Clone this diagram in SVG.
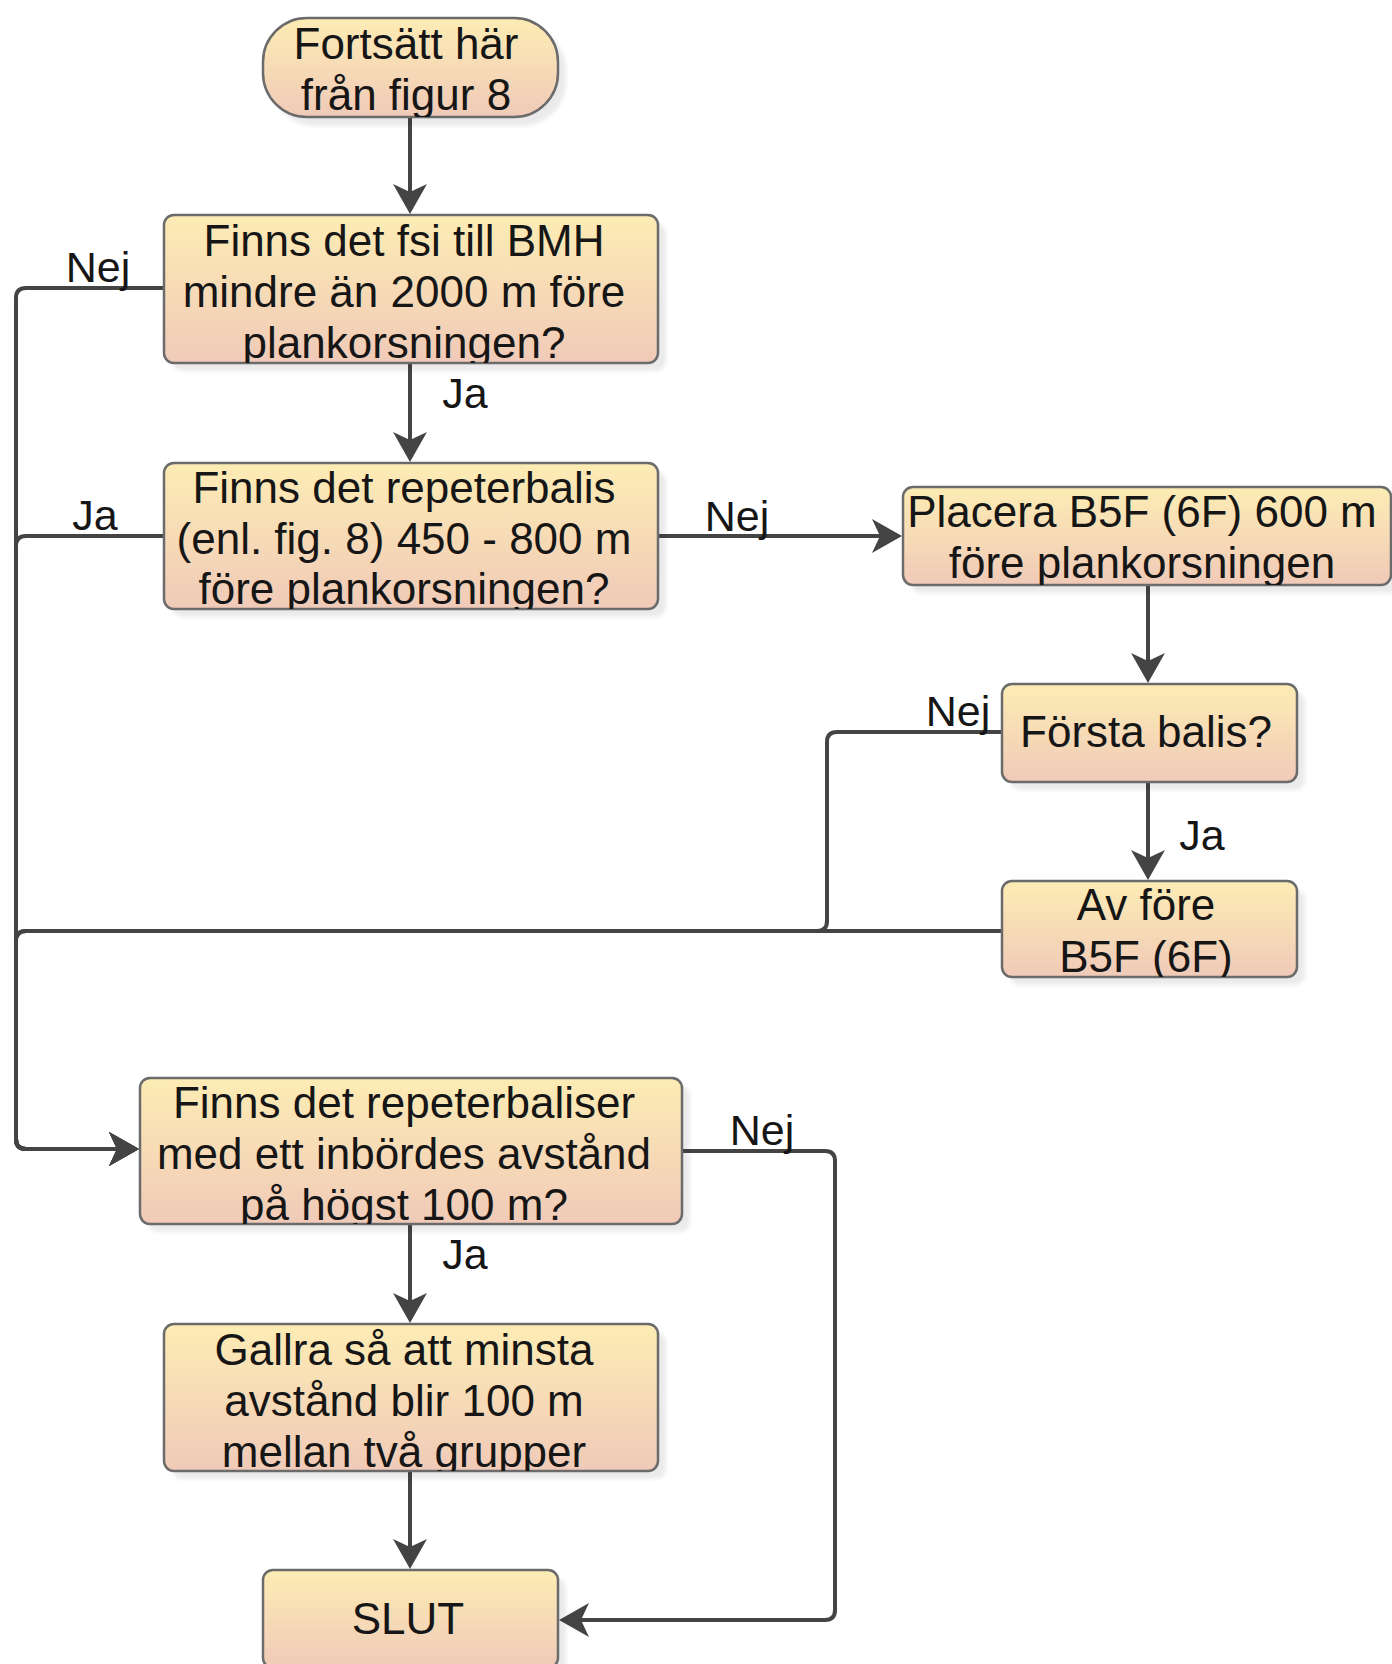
<svg xmlns="http://www.w3.org/2000/svg" width="1392" height="1664" viewBox="0 0 1392 1664">
  <style>
    .box { fill: url(#fillGrad); stroke: #6b6b6b; stroke-width: 2.5; }
    .shadow { fill: #000; opacity: 0.08; filter: url(#soft); }
    .txt { font-family: "Liberation Sans", Arial, sans-serif; font-size: 44px; fill: #161616; text-anchor: middle; }
    .lbl { font-family: "Liberation Sans", Arial, sans-serif; font-size: 43px; fill: #161616; text-anchor: middle; }
    .edge { fill: none; stroke: #444; stroke-width: 4; stroke-linejoin: round; }
    .arrow { marker-end: url(#arr); }
  </style>
  <defs>
    <linearGradient id="fillGrad" x1="0" y1="0" x2="0" y2="1">
      <stop offset="0" stop-color="#fdecb4"/>
      <stop offset="1" stop-color="#f0cab8"/>
    </linearGradient>
    <filter id="soft" x="-10%" y="-10%" width="120%" height="120%">
      <feGaussianBlur stdDeviation="2"/>
    </filter>
    <!-- classic arrowhead; the path ends at the notch, the tip sits 22px further on -->
    <marker id="arr" markerUnits="userSpaceOnUse" markerWidth="40" markerHeight="40" viewBox="-32 -20 40 40" refX="-22" refY="0" orient="auto">
      <path d="M0,0 L-30,-17 L-22,0 L-30,17 Z" fill="#444"/>
    </marker>
    <clipPath id="c-start"><rect x="200" y="10" width="420" height="107"/></clipPath>
    <clipPath id="c-q1"><rect x="100" y="205" width="620" height="158"/></clipPath>
    <clipPath id="c-q2"><rect x="100" y="453" width="620" height="156"/></clipPath>
    <clipPath id="c-place"><rect x="880" y="477" width="512" height="108"/></clipPath>
    <clipPath id="c-first"><rect x="990" y="674" width="320" height="108"/></clipPath>
    <clipPath id="c-off"><rect x="990" y="871" width="320" height="106"/></clipPath>
    <clipPath id="c-q3"><rect x="100" y="1068" width="620" height="156"/></clipPath>
    <clipPath id="c-thin"><rect x="100" y="1314" width="620" height="157"/></clipPath>
    <clipPath id="c-end"><rect x="200" y="1560" width="420" height="110"/></clipPath>
  </defs>

  <rect width="1392" height="1664" fill="#ffffff"/>

  <!-- connectors -->
  <g id="connectors">
    <path class="edge arrow" d="M410,117 V192"/>
    <path class="edge arrow" d="M410,363 V440"/>
    <path class="edge arrow" d="M164,288 H26 Q16,288 16,298 V1139 Q16,1149 26,1149 H117"/>
    <path class="edge arrow" d="M164,536 H26 Q16,536 16,546 V1139 Q16,1149 26,1149 H117"/>
    <path class="edge arrow" d="M658,536 H880"/>
    <path class="edge arrow" d="M1148,585 V661"/>
    <path class="edge arrow" d="M1002,732 H837 Q827,732 827,742 V921 Q827,931 817,931 H26 Q16,931 16,941 V1139 Q16,1149 26,1149 H117"/>
    <path class="edge arrow" d="M1148,782 V858"/>
    <path class="edge arrow" d="M1002,931 H26 Q16,931 16,941 V1139 Q16,1149 26,1149 H117"/>
    <path class="edge arrow" d="M410,1224 V1301"/>
    <path class="edge arrow" d="M682,1151 H825 Q835,1151 835,1161 V1610 Q835,1620 825,1620 H581"/>
    <path class="edge arrow" d="M410,1471 V1547"/>

    <text class="lbl" x="98" y="282">Nej</text>
    <text class="lbl" x="95" y="530">Ja</text>
    <text class="lbl" x="465" y="408">Ja</text>
    <text class="lbl" x="737" y="531">Nej</text>
    <text class="lbl" x="958" y="726">Nej</text>
    <text class="lbl" x="1202" y="850">Ja</text>
    <text class="lbl" x="762" y="1145">Nej</text>
    <text class="lbl" x="465" y="1269">Ja</text>
  </g>

  <!-- nodes -->
  <g id="start">
    <rect class="shadow" x="271" y="26" width="295" height="100" rx="44"/>
    <rect class="box" x="263" y="18" width="295" height="99" rx="44"/>
    <g clip-path="url(#c-start)">
      <text class="txt" x="406" y="59">Fortsätt här</text>
      <text class="txt" x="406" y="110">från figur 8</text>
    </g>
  </g>

  <g id="q-fsi">
    <rect class="shadow" x="172" y="223" width="494" height="148" rx="10"/>
    <rect class="box" x="164" y="215" width="494" height="148" rx="10"/>
    <g clip-path="url(#c-q1)">
      <text class="txt" x="404" y="256">Finns det fsi till BMH</text>
      <text class="txt" x="404" y="307">mindre än 2000 m före</text>
      <text class="txt" x="404" y="358">plankorsningen?</text>
    </g>
  </g>

  <g id="q-repeater">
    <rect class="shadow" x="172" y="471" width="494" height="146" rx="10"/>
    <rect class="box" x="164" y="463" width="494" height="146" rx="10"/>
    <g clip-path="url(#c-q2)">
      <text class="txt" x="404" y="503">Finns det repeterbalis</text>
      <text class="txt" x="404" y="554">(enl. fig. 8) 450 - 800 m</text>
      <text class="txt" x="404" y="604">före plankorsningen?</text>
    </g>
  </g>

  <g id="place-b5f">
    <rect class="shadow" x="911" y="495" width="488" height="98" rx="10"/>
    <rect class="box" x="903" y="487" width="488" height="98" rx="10"/>
    <g clip-path="url(#c-place)">
      <text class="txt" x="1142" y="527">Placera B5F (6F) 600 m</text>
      <text class="txt" x="1142" y="578">före plankorsningen</text>
    </g>
  </g>

  <g id="q-first">
    <rect class="shadow" x="1010" y="692" width="295" height="98" rx="10"/>
    <rect class="box" x="1002" y="684" width="295" height="98" rx="10"/>
    <g clip-path="url(#c-first)">
      <text class="txt" x="1146" y="747">Första balis?</text>
    </g>
  </g>

  <g id="off-b5f">
    <rect class="shadow" x="1010" y="889" width="295" height="96" rx="10"/>
    <rect class="box" x="1002" y="881" width="295" height="96" rx="10"/>
    <g clip-path="url(#c-off)">
      <text class="txt" x="1146" y="920">Av före</text>
      <text class="txt" x="1146" y="972">B5F (6F)</text>
    </g>
  </g>

  <g id="q-spacing">
    <rect class="shadow" x="148" y="1086" width="542" height="146" rx="10"/>
    <rect class="box" x="140" y="1078" width="542" height="146" rx="10"/>
    <g clip-path="url(#c-q3)">
      <text class="txt" x="404" y="1118">Finns det repeterbaliser</text>
      <text class="txt" x="404" y="1169">med ett inbördes avstånd</text>
      <text class="txt" x="404" y="1220">på högst 100 m?</text>
    </g>
  </g>

  <g id="thin-out">
    <rect class="shadow" x="172" y="1332" width="494" height="147" rx="10"/>
    <rect class="box" x="164" y="1324" width="494" height="147" rx="10"/>
    <g clip-path="url(#c-thin)">
      <text class="txt" x="404" y="1365">Gallra så att minsta</text>
      <text class="txt" x="404" y="1416">avstånd blir 100 m</text>
      <text class="txt" x="404" y="1467">mellan två grupper</text>
    </g>
  </g>

  <g id="end">
    <rect class="shadow" x="271" y="1578" width="295" height="98" rx="10"/>
    <rect class="box" x="263" y="1570" width="295" height="98" rx="10"/>
    <g clip-path="url(#c-end)">
      <text class="txt" x="408" y="1634">SLUT</text>
    </g>
  </g>
</svg>
